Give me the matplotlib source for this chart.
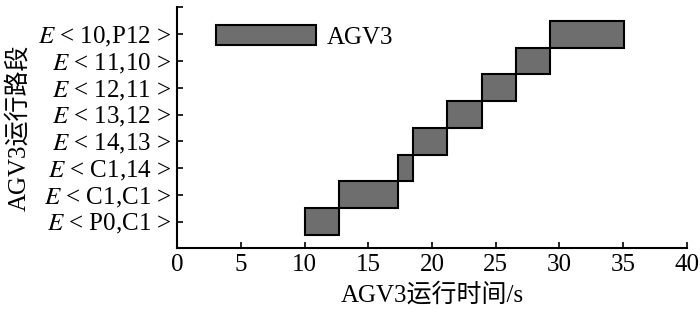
import matplotlib.pyplot as plt

# 字体设置：西文用衬线体，中文用 Noto Sans CJK
plt.rcParams['font.family'] = ['Liberation Serif', 'Noto Sans CJK SC']
plt.rcParams['mathtext.fontset'] = 'stix'

# 路段（自下而上）
segments = ['P0,C1', 'C1,C1', 'C1,14', '14,13', '13,12', '12,11', '11,10', '10,P12']
# 各路段的开始与结束时间 (s)
start_times = [10.0, 12.7, 17.3, 18.5, 21.2, 23.9, 26.6, 29.3]
end_times = [12.7, 17.3, 18.5, 21.2, 23.9, 26.6, 29.3, 35.1]
x_ticks = [0, 5, 10, 15, 20, 25, 30, 35, 40]

fig = plt.figure(figsize=(7, 3.09), dpi=100)
ax = fig.add_axes([0.253, 0.196, 0.728, 0.78])

y_pos = list(range(1, len(segments) + 1))
durations = [e - s for s, e in zip(start_times, end_times)]
ax.barh(y_pos, durations, left=start_times, height=1.0,
        color='#6e6e6e', edgecolor='black', linewidth=1.5, label='AGV3')

ax.set_xlim(0, 40)
ax.set_ylim(0, 9)
ax.set_xticks(x_ticks)
ax.set_yticks(y_pos + [9])
ax.set_yticklabels(['$E$ < ' + s + ' >' for s in segments] + [''])
ax.tick_params(direction='in', length=4, width=1.2, labelsize=18, pad=4)

ax.spines['top'].set_visible(False)
ax.spines['right'].set_visible(False)
ax.spines['left'].set_linewidth(1.5)
ax.spines['bottom'].set_linewidth(1.5)

ax.set_xlabel('AGV3运行时间/s', fontsize=18, labelpad=5)
ax.set_ylabel('AGV3运行路段', fontsize=18, labelpad=6)

ax.legend(loc='upper left', bbox_to_anchor=(0.077, 0.925), frameon=False,
          fontsize=18, handlelength=4.0, handleheight=0.8, handletextpad=0.4,
          borderpad=0, borderaxespad=0)

plt.savefig('out.png', dpi=100)
